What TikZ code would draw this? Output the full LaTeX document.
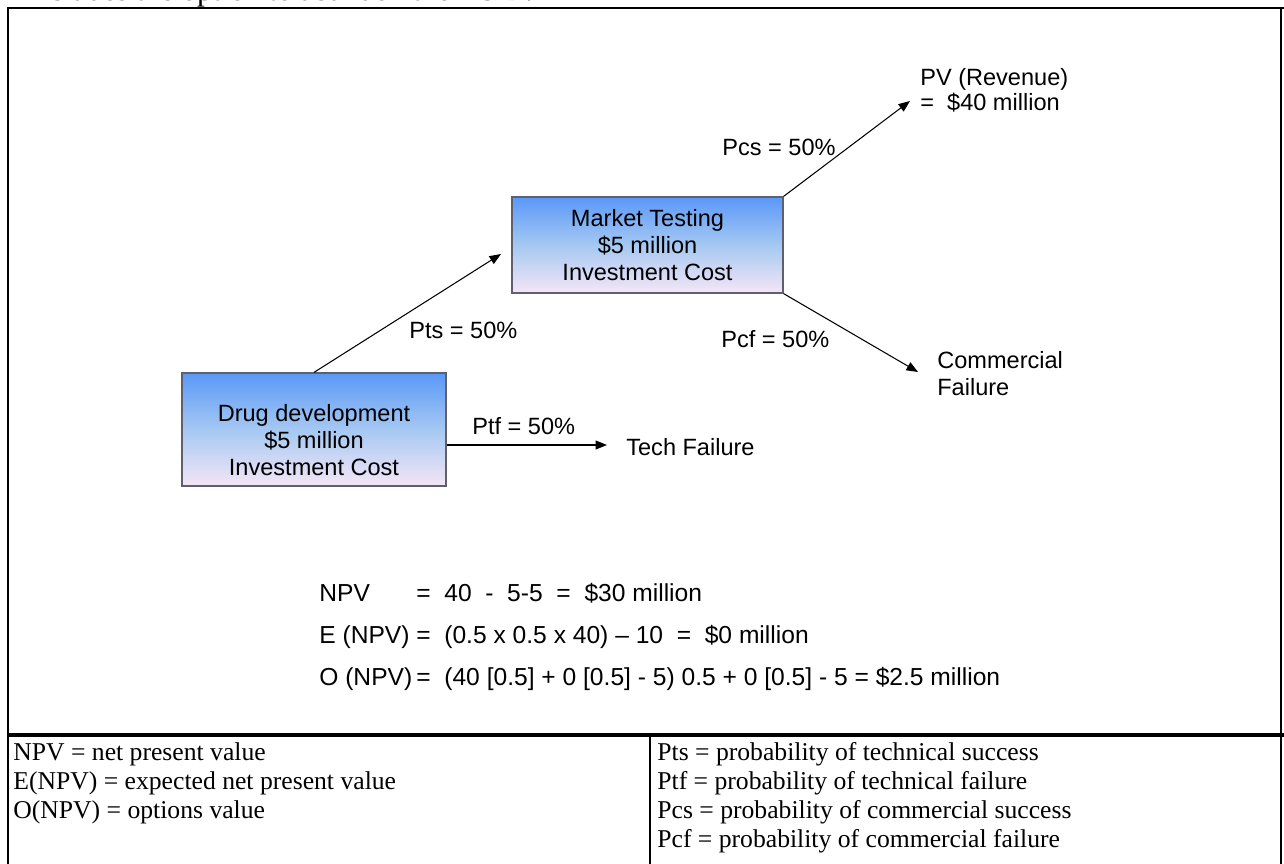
\documentclass[tikz,border=0pt]{standalone}
\usepackage{fontspec}
\setmainfont{Liberation Serif}
\newfontfamily\arialfont{Liberation Sans}
\usetikzlibrary{arrows.meta}

\definecolor{boxtop}{RGB}{90,152,248}
\definecolor{boxmid}{RGB}{165,200,242}
\definecolor{boxbot}{RGB}{244,230,246}
\definecolor{boxline}{RGB}{95,95,110}

\tikzset{
  stagebox/.style={draw=boxline,line width=0.7pt,top color=boxtop,bottom color=boxbot,middle color=boxmid,inner sep=0pt},
  dtext/.style={inner sep=0pt,font=\arialfont\fontsize{13.4}{15.4}\selectfont},
  vtext/.style={inner sep=0pt,anchor=base west,font=\arialfont\fontsize{14}{17}\selectfont},
  ttext/.style={inner sep=0pt,anchor=base west,font=\fontsize{14.6}{17}\selectfont},
  branch/.style={->,line width=0.6pt}
}

\begin{document}
\begin{tikzpicture}[x=0.02cm,y=-0.02cm,>={Triangle[length=0.23cm,width=0.18cm]}]
  \useasboundingbox (0,0) rectangle (1284,864);
  % line of text above, cut by the page
  \node[anchor=base west,inner sep=0pt,font=\fontsize{17.6}{20}\selectfont] (caption) at (25,0.5) {includes the option to abandon the R\&D.};
  % frame and table
  \draw[line width=1.1pt] (8,864) -- (8,8) -- (1284,8);
  \draw[line width=1.1pt] (1281,8) -- (1281,864);
  \draw[line width=2.3pt] (7,735) -- (1284,735);
  \draw[line width=0.9pt] (650,735) -- (650,864);
  % stages
  \node[stagebox,minimum width=5.42cm,minimum height=1.92cm] (mkt) at (647.5,245) {};
  \node[dtext,align=center] (mkttext) at (647.5,245) {Market Testing\\\$5 million\\Investment Cost};
  \node[stagebox,minimum width=5.28cm,minimum height=2.26cm] (dev) at (314,429.5) {};
  \node[dtext,align=center] (devtext) at (314,440) {Drug development\\\$5 million\\Investment Cost};
  % outcomes
  \node[dtext,align=left,anchor=west,font=\arialfont\fontsize{13.4}{14.2}\selectfont] (revenue) at (920,90.5) {PV (Revenue)\\=\ \ \$40 million};
  \node[dtext,align=left,anchor=west] (comfail) at (937,373.5) {Commercial\\Failure};
  \node[dtext,anchor=west] (techfail) at (626,447) {Tech Failure};
  \coordinate (pcsend) at (910,101);
  \coordinate (pcfend) at (918,372);
  \coordinate (ptsend) at (501,254);
  \coordinate (ptfend) at (607,445);
  % branches
  \draw[branch] (dev.north) -- (ptsend);
  \draw[branch] (dev.east |- ptfend) -- (ptfend);
  \draw[branch] (mkt.north east) -- (pcsend);
  \draw[branch] (mkt.south east) -- (pcfend);
  \node[dtext,anchor=west] (pts) at (409,330) {Pts = 50\%};
  \node[dtext,anchor=west] (ptf) at (472,426) {Ptf = 50\%};
  \node[dtext,anchor=west] (pcs) at (722,147) {Pcs = 50\%};
  \node[dtext,anchor=west] (pcf) at (721,339) {Pcf = 50\%};
  % values
  \node[vtext] (npv) at (319,601.5) {NPV};
  \node[vtext] (npvval) at (416,601.5) {=\ \ 40\ \ -\ \ 5-5\ \ =\ \ \$30 million};
  \node[vtext] (enpv) at (319,643.5) {E (NPV)};
  \node[vtext] (enpvval) at (416,643.5) {=\ \ (0.5 x 0.5 x 40) – 10\ \ =\ \ \$0 million};
  \node[vtext] (onpv) at (319,685.5) {O (NPV)};
  \node[vtext] (onpvval) at (416,685.5) {=\ \ (40 [0.5] + 0 [0.5] - 5) 0.5 + 0 [0.5] - 5 = \$2.5 million};
  % key
  \node[ttext] (k1) at (13,760) {NPV = net present value};
  \node[ttext] (k2) at (13,789) {E(NPV) = expected net present value};
  \node[ttext] (k3) at (13,818) {O(NPV) = options value};
  \node[ttext] (k4) at (657,760) {Pts = probability of technical success};
  \node[ttext] (k5) at (657,789) {Ptf = probability of technical failure};
  \node[ttext] (k6) at (657,818) {Pcs = probability of commercial success};
  \node[ttext] (k7) at (657,847) {Pcf = probability of commercial failure};
\end{tikzpicture}
\end{document}
